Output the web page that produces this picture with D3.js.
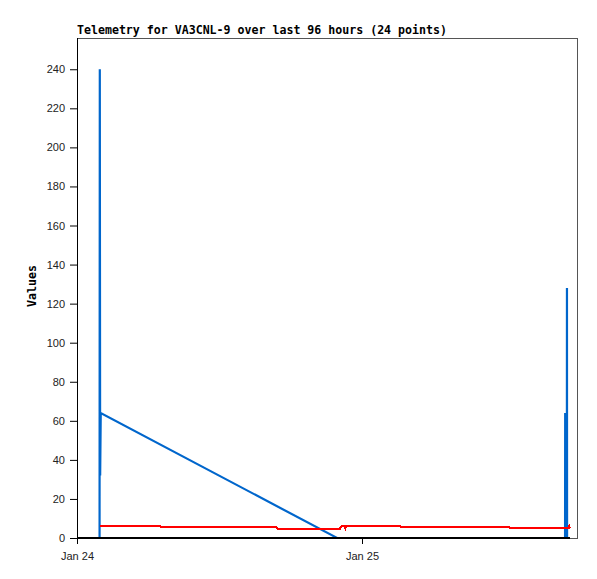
<!DOCTYPE html>
<html>
<head>
<meta charset="utf-8">
<script src="https://cdnjs.cloudflare.com/ajax/libs/d3/7.8.5/d3.min.js"></script>
<style>
  body { margin: 0; background: #fff; }
  .tick text { font-family: "Liberation Sans", Arial, sans-serif; font-size: 11px; fill: #222; }
</style>
</head>
<body>
<div id="svg"><svg></svg></div>
<script>

// hours after Jan 24 00:00, with values
var blueHours  = [1.90, 1.92, 1.95, 2.00, 21.90, 41.10, 41.11, 41.12, 41.25, 41.26, 41.27];
var blueValues = [0, 240, 32, 64, 0, 0, 64, 0, 0, 128, 0];

var redHours  = [1.95, 6.99, 7.05, 16.80, 16.90, 22.15, 22.25, 22.55, 22.60, 22.65, 27.20, 27.30, 36.40, 36.50, 41.40, 41.45, 41.52];
var redValues = [5.9, 5.9, 5.4, 5.4, 4.8, 4.8, 5.9, 5.9, 5.0, 6.0, 6.0, 5.5, 5.5, 5.0, 5.0, 6.0, 5.0];

var blackHours  = [0, 41.52];
var blackValues = [0, 0];

var dayTicks = ["2024-01-24", "2024-01-25"];
var yTicks = [0, 20, 40, 60, 80, 100, 120, 140, 160, 180, 200, 220, 240];

var width = 597;
var height = 579;
var padLeft = 77, padRight = 577, padTop = 38, padBottom = 538;

var start = new Date(2024, 0, 24);
function toDate(h) { return new Date(start.getTime() + h * 3600 * 1000); }

var xScale = d3.scaleTime()
               .domain([start, toDate(500 / 285 * 24)])
               .range([padLeft, padRight]);

var yScale = d3.scaleLinear()
               .domain([0, 256])
               .range([padBottom, padTop]);

var svg = d3.select("svg")
            .attr("width", width)
            .attr("height", height);

// frame
svg.append("rect")
   .attr("x", padLeft + 0.5)
   .attr("y", padTop + 0.5)
   .attr("width", padRight - padLeft)
   .attr("height", padBottom - padTop)
   .attr("fill", "none")
   .attr("stroke", "#555");

var xAxis = d3.axisBottom(xScale)
              .tickValues(dayTicks.map(d => d3.timeParse("%Y-%m-%d")(d)))
              .tickFormat(d3.timeFormat("%b %d"))
              .tickSize(6)
              .tickSizeOuter(0)
              .tickPadding(8);

var yAxis = d3.axisLeft(yScale)
              .tickValues(yTicks)
              .tickSize(7)
              .tickSizeOuter(0)
              .tickPadding(5);

var gx = svg.append("g")
    .attr("transform", "translate(0," + padBottom + ")")
    .call(xAxis);
gx.select(".domain").remove();

var gy = svg.append("g")
    .attr("transform", "translate(" + padLeft + ",0)")
    .call(yAxis);
gy.select(".domain").attr("d", "M0.5," + padTop + "V" + padBottom);

svg.selectAll(".tick line").attr("stroke", "#000");

var line = d3.line()
             .x(d => xScale(toDate(d[0])))
             .y(d => yScale(d[1]));

function pairs(h, v) { return h.map((t, i) => [t, v[i]]); }

svg.append("path")
   .datum(pairs(blueHours, blueValues))
   .attr("fill", "none")
   .attr("stroke", "#0066cc")
   .attr("stroke-width", 2.2)
   .attr("d", line);

svg.append("path")
   .datum(pairs(blackHours, blackValues))
   .attr("fill", "none")
   .attr("stroke", "#000")
   .attr("stroke-width", 2)
   .attr("shape-rendering", "crispEdges")
   .attr("d", line);

svg.append("path")
   .datum(pairs(redHours, redValues))
   .attr("fill", "none")
   .attr("stroke", "#ff0000")
   .attr("stroke-width", 2)
   .attr("shape-rendering", "crispEdges")
   .attr("d", line);

svg.append("text")
    .attr("x", padLeft)
    .attr("y", padTop - 4)
    .style("font-family", "'DejaVu Sans Mono', monospace")
    .style("font-weight", "bold")
    .style("font-size", "11.6px")
    .text("Telemetry for VA3CNL-9 over last 96 hours (24 points)");

svg.append("text")
    .attr("transform", "rotate(-90)")
    .attr("x", -(padTop + padBottom) / 2 + 2)
    .attr("y", 36)
    .style("text-anchor", "middle")
    .style("font-family", "'DejaVu Sans Mono', monospace")
    .style("font-weight", "bold")
    .style("font-size", "11.6px")
    .text("Values");

</script>
</body>
</html>
